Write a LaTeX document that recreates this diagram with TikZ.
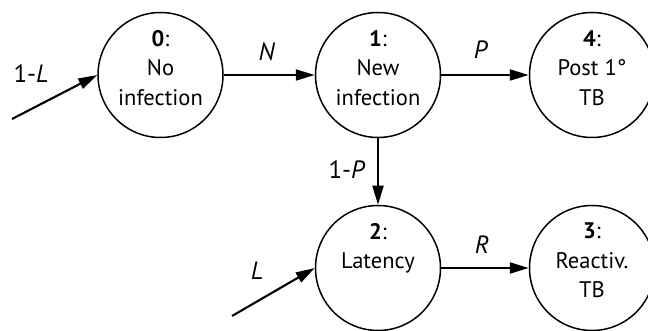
\documentclass[tikz,border=0pt]{standalone}
\usepackage{fontspec}
\setmainfont{PT Sans}
\usetikzlibrary{arrows.meta}
\begin{document}
\begin{tikzpicture}[x=1pt,y=-1pt,
  state/.style={circle,draw,line width=1.5pt,minimum size=125pt,inner sep=0pt},
  statetext/.style={align=center,anchor=north,inner sep=0pt,
    font=\fontsize{22.5}{29.5}\selectfont},
  lbl/.style={inner sep=0pt,font=\fontsize{25}{28}\selectfont},
  flow/.style={line width=2.1pt,-{Triangle[length=19pt,width=11pt]}}]
  \useasboundingbox (0,0) rectangle (648,331);
  \begin{scope}
  \clip (0,0) rectangle (648,331);
  % compartments
  \node[state] (s0) at (160.5,75) {};
  \node[state] (s1) at (378,75) {};
  \node[state] (s4) at (592,75) {};
  \node[state] (s2) at (378,268) {};
  \node[state] (s3) at (592,268) {};
  \end{scope}
  % compartment captions
  \node[statetext] (t0) at ([yshift=45]s0.center) {\textbf{0}:\\No\\infection};
  \node[statetext] (t1) at ([yshift=45]s1.center) {\textbf{1}:\\New\\infection};
  \node[statetext] (t4) at ([yshift=45]s4.center) {\textbf{4}:\\Post 1°\\TB};
  \node[statetext] (t2) at ([yshift=45]s2.center) {\textbf{2}:\\Latency};
  \node[statetext] (t3) at ([yshift=45]s3.center) {\textbf{3}:\\Reactiv.\\TB};
  % entry points
  \coordinate (e0) at (12,119);
  \coordinate (e2) at (232,316);
  % transitions
  \draw[flow] (e0) -- (s0.west);
  \draw[flow] (e2) -- (s2.west);
  \draw[flow] (s0.east) -- (s1.west);
  \draw[flow] (s1.east) -- (s4.west);
  \draw[flow] (s1.south) -- (s2.north);
  \draw[flow] (s2.east) -- (s3.west);
  % transition probabilities
  \node[lbl] (l0) at (31,74) {1-\textit{L}};
  \node[lbl] (lN) at (267,52) {\textit{N}};
  \node[lbl] (lP) at (481,50) {\textit{P}};
  \node[lbl] (l1P) at (347,170) {1-\textit{P}};
  \node[lbl] (lR) at (482,245) {\textit{R}};
  \node[lbl] (lL) at (257,271) {\textit{L}};
\end{tikzpicture}
\end{document}
